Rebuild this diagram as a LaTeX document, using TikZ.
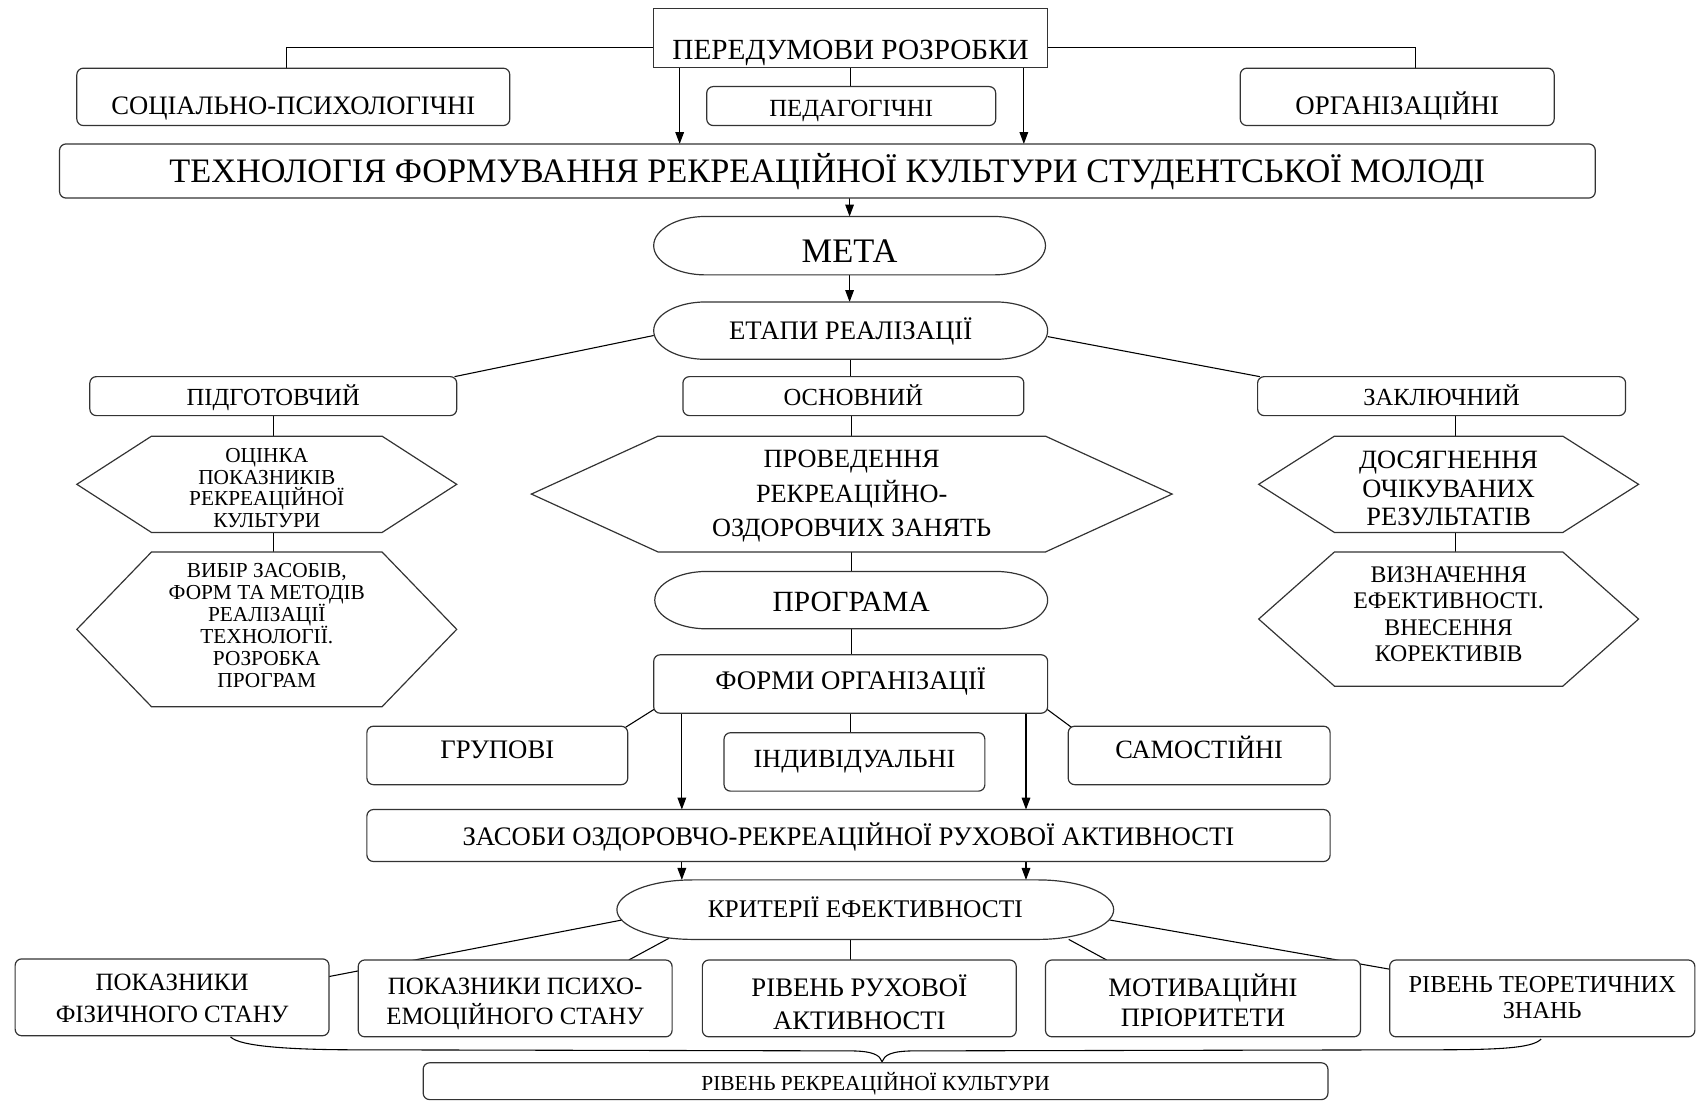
\documentclass[tikz,border=0pt]{standalone}
\usepackage{fontspec}
\setmainfont{Liberation Serif}
\usetikzlibrary{calc,arrows.meta}
\pgfdeclarelayer{bg}
\pgfdeclarelayer{mid}
\pgfsetlayers{bg,mid,main}
\newcommand\tf[2]{\fontsize{#1pt}{#2pt}\selectfont}
\newcommand\hexpath[2]{%
\begin{pgfonlayer}{mid}
\draw[boxline, fill=white] (#1.west) -- ($(#1.north west)+(#2,0)$) -- ($(#1.north east)+(-#2,0)$) -- (#1.east) -- ($(#1.south east)+(-#2,0)$) -- ($(#1.south west)+(#2,0)$) -- cycle;
\end{pgfonlayer}}
\newcommand\stadpath[3]{%
\begin{pgfonlayer}{mid}
\draw[boxline, fill=white] ($(#1.north west)+(#2,0)$) -- ($(#1.north east)+(-#2,0)$)
 .. controls +(0.5523*#2,0) and +(0,-0.5523*#3) .. (#1.east)
 .. controls +(0,0.5523*#3) and +(0.5523*#2,0) .. ($(#1.south east)+(-#2,0)$)
 -- ($(#1.south west)+(#2,0)$)
 .. controls +(-0.5523*#2,0) and +(0,0.5523*#3) .. (#1.west)
 .. controls +(0,-0.5523*#3) and +(-0.5523*#2,0) .. ($(#1.north west)+(#2,0)$) -- cycle;
\end{pgfonlayer}}
\begin{document}
\begin{tikzpicture}[x=1pt,y=-1pt,
 boxline/.style={draw=black!80, line width=1.1pt},
 rbox/.style={boxline, rounded corners=6pt, fill=white, inner sep=0pt, outer sep=0pt},
 sbox/.style={boxline, fill=white, inner sep=0pt, outer sep=0pt},
 shp/.style={inner sep=0pt, outer sep=0pt},
 conn/.style={line width=1pt, draw=black},
 arr/.style={conn, -{Triangle[length=11pt,width=8pt]}},
 th/.style 2 args={text height=#1pt, text depth=#2pt}]
\useasboundingbox (0,0) rectangle (1568,1017);

% top
\node[sbox, minimum width=364pt, minimum height=54pt, font=\tf{27}{32}, th={39.7}{0}] (pered) at (786,35) {ПЕРЕДУМОВИ РОЗРОБКИ};
\node[rbox, minimum width=400pt, minimum height=53pt, font=\tf{24.6}{30}, th={33.1}{0}] (soc) at (271,89.5) {СОЦІАЛЬНО-ПСИХОЛОГІЧНІ};
\node[rbox, minimum width=267pt, minimum height=36pt, font=\tf{22.8}{28}, th={18.9}{0}] (ped) at (786.5,98) {ПЕДАГОГІЧНІ};
\node[rbox, minimum width=290pt, minimum height=53pt, font=\tf{24.8}{30}, th={33.2}{0}] (org) at (1291,89.5) {ОРГАНІЗАЦІЙНІ};
\node[rbox, minimum width=1419pt, minimum height=50pt, font=\tf{31.7}{38}, th={20.8}{0}] (tech) at (764.5,158) {ТЕХНОЛОГІЯ ФОРМУВАННЯ РЕКРЕАЦІЙНОЇ КУЛЬТУРИ СТУДЕНТСЬКОЇ МОЛОДІ};
\node[shp, minimum width=362pt, minimum height=54pt, font=\tf{31.8}{38}, th={30.8}{0}] (meta) at (785,227) {МЕТА};
\stadpath{meta}{48}{27}
\node[shp, minimum width=364pt, minimum height=53pt, font=\tf{24.7}{30}, th={16.2}{0}] (etapy) at (786,305.5) {ЕТАПИ РЕАЛІЗАЦІЇ};
\stadpath{etapy}{48}{26.5}

% stages
\node[rbox, minimum width=339pt, minimum height=36pt, font=\tf{22.7}{28}, th={16.9}{0}] (pid) at (252.5,366) {ПІДГОТОВЧИЙ};
\node[rbox, minimum width=315pt, minimum height=36pt, font=\tf{22.7}{28}, th={16.9}{0}] (osn) at (788.5,366) {ОСНОВНИЙ};
\node[rbox, minimum width=340pt, minimum height=36pt, font=\tf{22.7}{28}, th={16.9}{0}] (zak) at (1332,366) {ЗАКЛЮЧНИЙ};

% hexagons
\node[shp, minimum width=351pt, minimum height=89pt, align=center, font=\tf{19.7}{20}, th={79.9}{0}] (hexA) at (246.5,447.5) {ОЦІНКА\\ПОКАЗНИКІВ\\РЕКРЕАЦІЙНОЇ\\КУЛЬТУРИ};
\hexpath{hexA}{69}
\node[shp, minimum width=351pt, minimum height=143pt, align=center, font=\tf{19.7}{20.4}, th={107.9}{0}] (hexB) at (246.5,581.5) {ВИБІР ЗАСОБІВ,\\ФОРМ ТА МЕТОДІВ\\РЕАЛІЗАЦІЇ\\ТЕХНОЛОГІЇ.\\РОЗРОБКА\\ПРОГРАМ};
\hexpath{hexB}{69}
\node[shp, minimum width=592pt, minimum height=107pt, align=center, font=\tf{24.3}{32}, th={78.9}{0}] (hexC) at (787,456.5) {ПРОВЕДЕННЯ\\РЕКРЕАЦІЙНО-\\ОЗДОРОВЧИХ ЗАНЯТЬ};
\hexpath{hexC}{117}
\node[shp, minimum width=351pt, minimum height=89pt, align=center, font=\tf{24.4}{26.5}, th={77}{0}] (hexD) at (1338.5,447.5) {ДОСЯГНЕННЯ\\ОЧІКУВАНИХ\\РЕЗУЛЬТАТІВ};
\hexpath{hexD}{70}
\node[shp, minimum width=351pt, minimum height=124pt, align=center, font=\tf{22}{24.3}, th={78.3}{0}] (hexE) at (1338.5,572) {ВИЗНАЧЕННЯ\\ЕФЕКТИВНОСТІ.\\ВНЕСЕННЯ\\КОРЕКТИВІВ};
\hexpath{hexE}{70}

% programme and forms
\node[shp, minimum width=363pt, minimum height=53pt, font=\tf{27.1}{32}, th={20.8}{0}] (prog) at (786.5,554.5) {ПРОГРАМА};
\stadpath{prog}{48}{26.5}
\node[rbox, minimum width=364pt, minimum height=54pt, font=\tf{24.8}{30}, th={16.2}{6}] (formy) at (786,632) {ФОРМИ ОРГАНІЗАЦІЇ};
\node[rbox, minimum width=241pt, minimum height=54pt, font=\tf{24.7}{30}, th={16.2}{10}] (grup) at (459.5,698) {ГРУПОВІ};
\node[rbox, minimum width=241pt, minimum height=54pt, font=\tf{24.2}{30}, th={15.9}{6}] (indiv) at (789.5,704) {ІНДИВІДУАЛЬНІ};
\node[rbox, minimum width=242pt, minimum height=54pt, font=\tf{24.4}{30}, th={16}{10}] (samost) at (1108,698) {САМОСТІЙНІ};
\node[rbox, minimum width=890pt, minimum height=48pt, font=\tf{24.7}{30}, th={18.2}{0}] (zasoby) at (784,772) {ЗАСОБИ ОЗДОРОВЧО-РЕКРЕАЦІЙНОЇ РУХОВОЇ АКТИВНОСТІ};
\node[shp, minimum width=459pt, minimum height=55pt, font=\tf{23.5}{28}, th={15.4}{0}] (krit) at (799.5,840.5) {КРИТЕРІЇ ЕФЕКТИВНОСТІ};
\stadpath{krit}{70}{27.5}

% criteria
\node[rbox, minimum width=290pt, minimum height=71pt, align=center, font=\tf{23}{29}, th={46.1}{0}] (fiz) at (159,921.5) {ПОКАЗНИКИ\\ФІЗИЧНОГО СТАНУ};
\node[rbox, minimum width=290pt, minimum height=71pt, align=center, font=\tf{23}{28}, th={48.1}{0}] (psy) at (476,922.5) {ПОКАЗНИКИ ПСИХО-\\ЕМОЦІЙНОГО СТАНУ};
\node[rbox, minimum width=290pt, minimum height=71pt, align=center, font=\tf{24.7}{30}, th={57.2}{0}] (ruh) at (794,922.5) {РІВЕНЬ РУХОВОЇ\\АКТИВНОСТІ};
\node[rbox, minimum width=291pt, minimum height=71pt, align=center, font=\tf{24.6}{27}, th={51.1}{0}] (motiv) at (1111.5,922.5) {МОТИВАЦІЙНІ\\ПРІОРИТЕТИ};
\node[rbox, minimum width=282pt, minimum height=71pt, align=center, font=\tf{22.5}{24}, th={37.7}{0}] (teor) at (1425,922.5) {РІВЕНЬ ТЕОРЕТИЧНИХ\\ЗНАНЬ};
\node[rbox, minimum width=836pt, minimum height=34pt, font=\tf{19.8}{24}, th={17}{0}] (riven) at (809,999) {РІВЕНЬ РЕКРЕАЦІЙНОЇ КУЛЬТУРИ};

% connectors
\begin{pgfonlayer}{bg}
\draw[conn] ($(pered.west)+(0,9)$) -| ($(soc.north)+(-6,0)$);
\draw[conn] ($(pered.east)+(0,9)$) -| ($(org.north)+(17,0)$);
\draw[conn] (pered.south) -- (pered.south |- ped.north);
\coordinate (pa) at ($(pered.south)+(-158,0)$);
\coordinate (pb) at ($(pered.south)+(160,0)$);
\draw[arr] (pa) -- (pa |- tech.north);
\draw[arr] (pb) -- (pb |- tech.north);
\draw[arr] (meta.north |- tech.south) -- (meta.north);
\draw[arr] (meta.south) -- (meta.south |- etapy.north);
\draw[conn] ($(etapy.west)+(0,4.5)$) -- ($(pid.north east)+(-2,0)$);
\draw[conn] ($(etapy.east)+(0,5.5)$) -- ($(zak.north west)+(2,0)$);
\draw[conn] (etapy.south) -- (etapy.south |- osn.north);
\draw[conn] (pid.south) -- (pid.south |- hexA.north);
\draw[conn] (pid.south |- hexA.south) -- (pid.south |- hexB.north);
\draw[conn] (hexC.north |- osn.south) -- (hexC.north);
\draw[conn] (hexC.south) -- (hexC.south |- prog.north);
\draw[conn] (prog.south) -- (prog.south |- formy.north);
\coordinate (zl) at ($(zak.south)+(13,0)$);
\draw[conn] (zl) -- (zl |- hexD.north);
\draw[conn] (zl |- hexD.south) -- (zl |- hexE.north);
\draw[conn] (formy.south) -- (formy.south |- indiv.north);
\draw[conn] ($(formy.south west)+(1,-4)$) -- ($(grup.north east)+(-2,1)$);
\draw[conn] ($(formy.south east)+(-1,-4)$) -- ($(samost.north west)+(3,1)$);
\coordinate (fa) at ($(formy.south)+(-156,0)$);
\coordinate (fb) at ($(formy.south)+(162,0)$);
\draw[arr] (fa) -- (fa |- zasoby.north);
\draw[arr] (fb) -- (fb |- zasoby.north);
\draw[arr] (fa |- zasoby.south) -- (fa |- krit.north);
\draw[arr] (fb |- zasoby.south) -- (fb |- krit.north);
\draw[conn] ($(krit.west)+(5,9.5)$) -- ($(fiz.north east)+(-1,16.5)$);
\draw[conn] ($(krit.south west)+(48,-1)$) -- ($(psy.north east)+(-40,0)$);
\coordinate (km) at ($(krit.south)+(-13.5,0)$);
\draw[conn] (km) -- (km |- ruh.north);
\draw[conn] ($(krit.south east)+(-41.5,0)$) -- ($(motiv.north west)+(56.5,0)$);
\draw[conn] ($(krit.east)+(-4,9.5)$) -- ($(teor.north west)+(0,8.5)$);
\coordinate (bl) at ($(fiz.south)+(54,1)$);
\coordinate (br) at ($(teor.south)+(-1,2)$);
\coordinate (bt) at ($(riven.north)+(6,-1)$);
\draw[conn] (bl) .. controls +(8,9) and +(-60,0) .. (330,970) -- (785,971)
  .. controls +(22,0) and +(-2,-6) .. (bt)
  .. controls +(2,-6) and +(-22,0) .. (845,971) -- (1320,970)
  .. controls +(60,0) and +(-8,9) .. (br);
\end{pgfonlayer}
\end{tikzpicture}
\end{document}
